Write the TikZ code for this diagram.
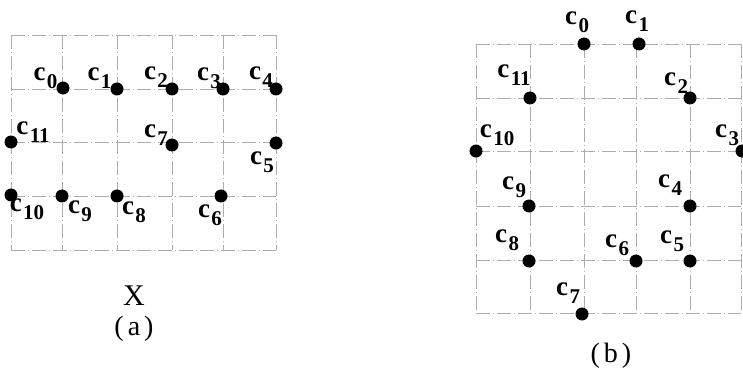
\documentclass[tikz,border=0pt]{standalone}
\usepackage{fontspec}
\setmainfont{Liberation Serif}
\newcommand{\clab}[1]{\bfseries\fontsize{27}{27}\selectfont c\hspace{1.5pt}\raisebox{-8pt}{\fontsize{21}{21}\selectfont #1}}
\tikzset{
  gridline/.style={draw=black!32, line width=0.6pt, dash pattern=on 14pt off 3pt on 1pt off 3pt},
  cell/.style={circle, fill=black, inner sep=0pt, minimum size=13pt},
  clabel/.style={inner sep=0pt, anchor=center},
  caption/.style={inner sep=0pt, font=\fontsize{28}{28}\selectfont}
}
\begin{document}
\begin{tikzpicture}[x=1pt,y=-1pt]
\useasboundingbox (0,0) rectangle (743,387);
\begin{scope}
\clip (0,0) rectangle (743,387);

% ---- left grid (a) ----
\foreach \y in {35,89,142,196,250} \draw[gridline] (11,\y) -- (276,\y);
\foreach \x in {11,62,117,172,223,276} \draw[gridline] (\x,35) -- (\x,250);

% ---- right grid (b) ----
\foreach \y in {44,98,151,206,260,313} \draw[gridline] (476,\y) -- (741,\y);
\foreach \x in {476,530,584,636,690,741} \draw[gridline] (\x,44) -- (\x,313);

% ---- cells of (a) ----
\node[cell] (a0) at (63,88) {};
\node[cell] (a1) at (117,89) {};
\node[cell] (a2) at (172,89) {};
\node[cell] (a3) at (223,89) {};
\node[cell] (a4) at (276,89) {};
\node[cell] (a11) at (11,142) {};
\node[cell] (a7) at (172,145) {};
\node[cell] (a5) at (276,143) {};
\node[cell] (a10) at (11,195) {};
\node[cell] (a9) at (62,196) {};
\node[cell] (a8) at (117,196) {};
\node[cell] (a6) at (221,196) {};

\node[clabel] (la0) at (45.5,78) {\clab{0}};
\node[clabel] (la1) at (99.5,78) {\clab{1}};
\node[clabel] (la2) at (156,77.5) {\clab{2}};
\node[clabel] (la3) at (209,78) {\clab{3}};
\node[clabel] (la4) at (261,77) {\clab{4}};
\node[clabel] (la11) at (33,132) {\clab{11}};
\node[clabel] (la7) at (156,135) {\clab{7}};
\node[clabel] (la5) at (262,162) {\clab{5}};
\node[clabel] (la10) at (27,209) {\clab{10}};
\node[clabel] (la9) at (80,211) {\clab{9}};
\node[clabel] (la8) at (134,212) {\clab{8}};
\node[clabel] (la6) at (210,215) {\clab{6}};

% ---- cells of (b) ----
\node[cell] (b0) at (584,44) {};
\node[cell] (b1) at (639,44) {};
\node[cell] (b11) at (530,98) {};
\node[cell] (b2) at (690,98) {};
\node[cell] (b10) at (476,151) {};
\node[cell] (b3) at (742,151) {};
\node[cell] (b9) at (529,206) {};
\node[cell] (b4) at (690,206) {};
\node[cell] (b8) at (529,261) {};
\node[cell] (b6) at (636,261) {};
\node[cell] (b5) at (690,261) {};
\node[cell] (b7) at (582,314) {};

\node[clabel] (lb0) at (577,22) {\clab{0}};
\node[clabel] (lb1) at (637,21) {\clab{1}};
\node[clabel] (lb11) at (514,75) {\clab{11}};
\node[clabel] (lb2) at (676,83) {\clab{2}};
\node[clabel] (lb10) at (497,135) {\clab{10}};
\node[clabel] (lb3) at (727,135) {\clab{3}};
\node[clabel] (lb9) at (514,187) {\clab{9}};
\node[clabel] (lb4) at (670,185) {\clab{4}};
\node[clabel] (lb8) at (507,240) {\clab{8}};
\node[clabel] (lb6) at (617,245) {\clab{6}};
\node[clabel] (lb5) at (672,241) {\clab{5}};
\node[clabel] (lb7) at (568,293) {\clab{7}};
\end{scope}

% ---- captions ----
\node[caption, font=\fontsize{30}{30}\selectfont] (xlabel) at (134,296) {X};
\node[caption] (capa) at (134,329) {(\hspace{4pt}a\hspace{4pt})};
\node[caption] (capb) at (611,356) {(\hspace{4pt}b\hspace{4pt})};
\end{tikzpicture}
\end{document}
